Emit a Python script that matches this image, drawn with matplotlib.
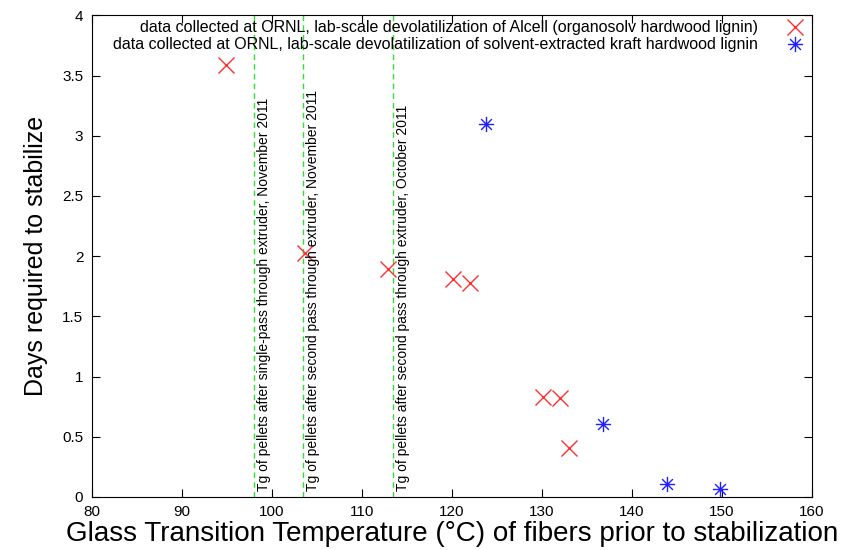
import matplotlib
matplotlib.use("Agg")
import matplotlib.pyplot as plt
from matplotlib.path import Path

plt.rcParams['font.family'] = ['Liberation Sans', 'DejaVu Sans']

# data
alcell_tg = [94.9, 103.7, 112.9, 120.1, 122.0, 130.1, 132.0, 133.0]
alcell_days = [3.59, 2.03, 1.89, 1.81, 1.78, 0.83, 0.82, 0.41]
kraft_tg = [123.8, 136.8, 143.9, 149.8]
kraft_days = [3.10, 0.61, 0.11, 0.07]

pellet_tg = [98.0, 103.5, 113.5]
pellet_labels = [
    "Tg of pellets after single-pass through extruder, November 2011",
    "Tg of pellets after second pass through extruder, November 2011",
    "Tg of pellets after second pass through extruder, October 2011",
]

label_alcell = "data collected at ORNL, lab-scale devolatilization of Alcell (organosolv hardwood lignin)"
label_kraft = "data collected at ORNL, lab-scale devolatilization of solvent-extracted kraft hardwood lignin"

xticks = [80, 90, 100, 110, 120, 130, 140, 150, 160]
yticks = [0, 0.5, 1, 1.5, 2, 2.5, 3, 3.5, 4]
ytick_labels = ["0", "0.5", "1", "1.5", "2", "2.5", "3", "3.5", "4"]

# asterisk marker (gnuplot point type 3)
d = 0.7071
star = Path([(-1, 0), (1, 0), (0, -1), (0, 1), (-d, -d), (d, d), (-d, d), (d, -d)],
            [Path.MOVETO, Path.LINETO] * 4)

fig = plt.figure(figsize=(8.41, 5.5), dpi=100)
ax = fig.add_axes([0.109, 0.0964, 0.8565, 0.8756])

for x, txt in zip(pellet_tg, pellet_labels):
    ax.axvline(x, color="#33dd33", lw=1, linestyle=(0, (4, 3)))
    ax.text(x + 0.35, 0.05, txt, rotation=90, ha="left", va="bottom", fontsize=10)

ax.plot(alcell_tg, alcell_days, linestyle="none", marker="x", markersize=11,
        markeredgewidth=1, color="#ff3030", label=label_alcell)
ax.plot(kraft_tg, kraft_days, linestyle="none", marker=star, markersize=11,
        markeredgewidth=1, color="#2020ff", label=label_kraft)

ax.set_xlim(80, 160)
ax.set_ylim(0, 4)
ax.set_xticks(xticks)
ax.set_yticks(yticks)
ax.set_yticklabels(ytick_labels)
ax.tick_params(direction="in", length=6, top=True, right=True, labelsize=11, pad=6)

ax.set_xlabel("Glass Transition Temperature (°C) of fibers prior to stabilization", fontsize=20, labelpad=1)
ax.set_ylabel("Days required to stabilize", fontsize=18, labelpad=10)

leg = ax.legend(loc="upper right", frameon=False, markerfirst=False, fontsize=11.5,
                handlelength=1.5, handletextpad=1.6, borderaxespad=0, borderpad=0.3,
                labelspacing=0.12)
for t in leg.get_texts():
    t.set_ha("right")
leg._legend_box.align = "right"

fig.savefig("out.png", dpi=100)
